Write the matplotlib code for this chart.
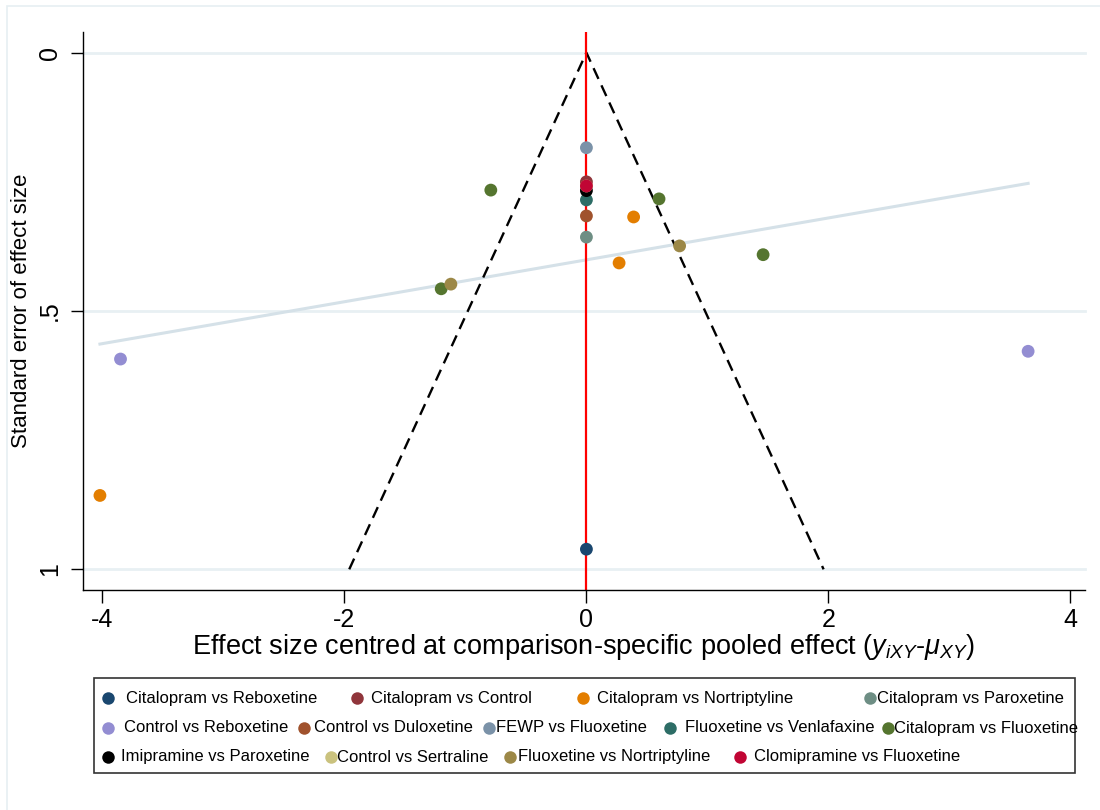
import matplotlib
matplotlib.use("Agg")
import matplotlib.pyplot as plt
from matplotlib.lines import Line2D
from matplotlib.patches import Rectangle

plt.rcParams["font.family"] = ["Liberation Sans", "DejaVu Sans"]
plt.rcParams["mathtext.fontset"] = "custom"
plt.rcParams["mathtext.rm"] = "Liberation Sans"
plt.rcParams["mathtext.it"] = "Liberation Sans:italic"

# comparison-adjusted funnel plot data
comparisons = [
    "Citalopram vs Reboxetine", "Citalopram vs Control", "Citalopram vs Nortriptyline",
    "Citalopram vs Paroxetine", "Control vs Reboxetine", "Control vs Duloxetine",
    "FEWP vs Fluoxetine", "Fluoxetine vs Venlafaxine", "Citalopram vs Fluoxetine",
    "Imipramine vs Paroxetine", "Control vs Sertraline", "Fluoxetine vs Nortriptyline",
    "Clomipramine vs Fluoxetine",
]
colours = [
    "#1a476f", "#90353b", "#e37e00", "#6e8e84", "#938dd2", "#a0522d", "#7b92a8",
    "#2d6d66", "#55752f", "#000000", "#cac27e", "#9c8847", "#c10534",
]
effect = [
    [0.0], [0.0], [0.39, 0.27, -4.02], [0.0], [-3.85, 3.65], [0.0], [0.0],
    [0.0], [-0.79, 0.60, 1.46, -1.20], [0.0], [0.0], [0.77, -1.12], [0.0],
]
std_err = [
    [0.961], [0.250], [0.318, 0.407, 0.857], [0.357], [0.593, 0.578], [0.316], [0.184],
    [0.285], [0.266, 0.283, 0.391, 0.457], [0.267], [0.258], [0.374, 0.448], [0.258],
]

# pseudo 95% limits and fitted line (SE on centred effect)
funnel_x = [-1.96, 0.0, 1.96]
funnel_se = [1.0, 0.0, 1.0]
fit_x = [-4.02, 3.65]
fit_se = [0.564, 0.253]

W, H = 1100, 810
fig = plt.figure(figsize=(W / 100, H / 100), dpi=100)
ax = fig.add_axes([83 / W, 1 - 590 / H, (1085 - 83) / W, (590 - 32) / H])

for yv in (0, 0.5, 1):
    ax.plot([-4.16, 4.12], [yv, yv], color="#e8f0f3", lw=2, zorder=0, clip_on=False)

ax.plot(fit_x, fit_se, color="#d5e1e8", lw=2.2, zorder=1)
ax.plot(funnel_x, funnel_se, color="black", lw=1.7, ls=(0, (5, 3)), zorder=2)
ax.axvline(0, color="#ff0000", lw=1.6, zorder=2)

for xs, ys, c in zip(effect, std_err, colours):
    ax.scatter(xs, ys, s=85, color=c, edgecolors="none", zorder=3)

ax.set_xlim(-4.16, 4.12)
ax.set_ylim(1.04, -0.04)
ax.set_xticks([-4, -2, 0, 2, 4])
ax.set_xticklabels(["-4", "-2", "0", "2", "4"])
ax.set_yticks([0, 0.5, 1])
ax.set_yticklabels(["0", ".5", "1"], rotation=90, va="center")
ax.tick_params(axis="both", length=9, width=1, labelsize=18, pad=4)
ax.tick_params(axis="y", pad=6)
for s in ("top", "right"):
    ax.spines[s].set_visible(False)
for s in ("left", "bottom"):
    ax.spines[s].set_linewidth(1)

ax.set_xlabel(r"Effect size centred at comparison-specific pooled effect ($y_{iXY}$-$\mu_{XY}$)",
              fontsize=19.5, labelpad=0)
fig.text(22 / W, 1 - 311 / H, "Standard error of effect size", rotation=90,
         ha="center", va="center", fontsize=16)

# outer graph region border
fig.add_artist(Rectangle((7 / W, -0.1), 1.2, 1 - 6 / H + 0.1, transform=fig.transFigure,
                         fill=False, edgecolor="#e6eff2", lw=1.2))

# legend box, entries laid out on three rows
fig.add_artist(Rectangle((94 / W, 1 - 773 / H), (1075 - 94) / W, (773 - 678) / H,
                         transform=fig.transFigure, fill=False, edgecolor="#333333", lw=1.2))
row_y = [698, 698, 698, 698, 728, 728, 728, 728, 728, 757, 757, 757, 757]
mark_x = [108, 357, 583, 870, 108, 304, 489, 670, 888, 108, 331, 510, 740]
text_x = [126, 371, 597, 877, 124, 314, 496, 685, 894, 121, 337, 518, 754]
for name, c, my, mx, tx in zip(comparisons, colours, row_y, mark_x, text_x):
    fig.add_artist(Line2D([mx / W], [1 - my / H], marker="o", markersize=9, color=c,
                          markeredgewidth=0, transform=fig.transFigure))
    fig.text(tx / W, 1 - my / H, name, ha="left", va="center", fontsize=12)

fig.savefig("out.png", dpi=100, facecolor="white")
